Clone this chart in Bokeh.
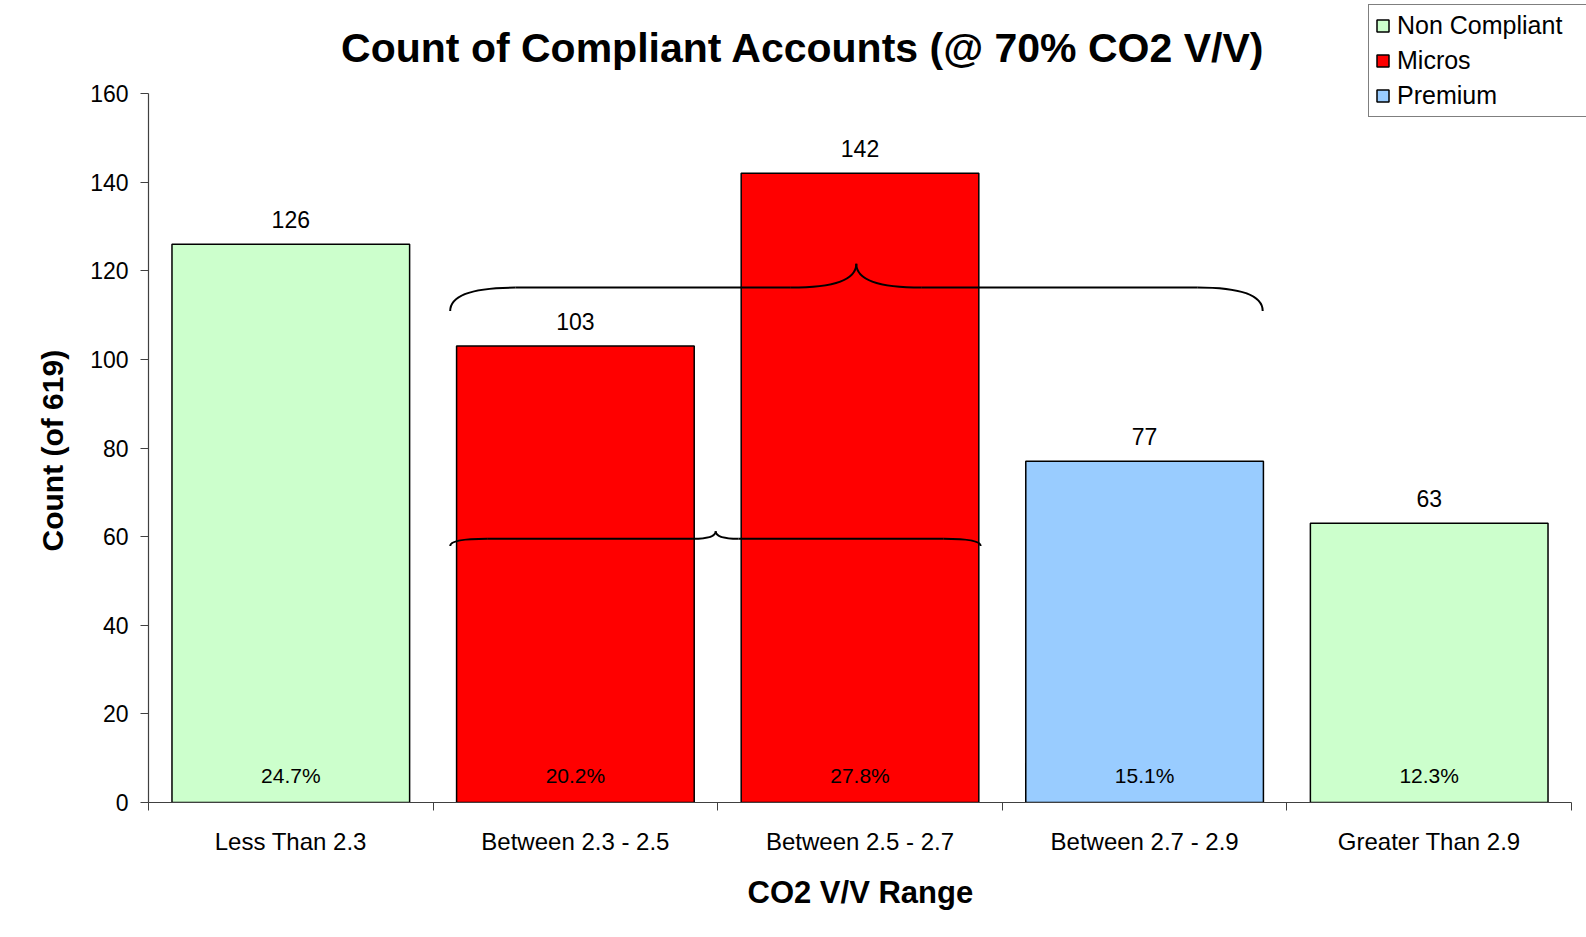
from bokeh.plotting import figure
from bokeh.models import ColumnDataSource, FixedTicker, Range1d, Label, Title
from bokeh.embed import file_html
from bokeh.resources import INLINE
from bokeh.core.properties import value

# ---------------- data ----------------
categories = ["Less Than 2.3", "Between 2.3 - 2.5", "Between 2.5 - 2.7",
              "Between 2.7 - 2.9", "Greater Than 2.9"]
counts = [126, 103, 142, 77, 63]
percent_labels = ["24.7%", "20.2%", "27.8%", "15.1%", "12.3%"]
groups = ["Non Compliant", "Micros", "Micros", "Premium", "Non Compliant"]
group_names = ["Non Compliant", "Micros", "Premium"]
group_colors = ["#CCFFCC", "#FF0000", "#99CCFF"]
y_ticks = [0, 20, 40, 60, 80, 100, 120, 140, 160]
Y_MAX = 160

TITLE = "Count of Compliant Accounts (@ 70% CO2 V/V)"
X_LABEL = "CO2 V/V Range"
Y_LABEL = "Count (of 619)"
FONT = "Liberation Sans"
AXIS_COLOR = "#404040"

# ---------------- layout (pixels) ----------------
W, H = 1586, 937
LEFT, BOTTOM = 148, 135          # frame offsets
AXIS_RIGHT_PX, AXIS_TOP_PX = 1571, 93   # where the axes end on the page
n = len(categories)
px_per_x = (AXIS_RIGHT_PX - LEFT) / n
px_per_y = (H - BOTTOM - AXIS_TOP_PX) / Y_MAX
x_end = (W - LEFT) / px_per_x
y_end = (H - BOTTOM) / px_per_y

color_of = dict(zip(group_names, group_colors))
xs = [i + 0.5 for i in range(n)]
src = ColumnDataSource(dict(
    x=xs, count=counts, pct=percent_labels, group=groups,
    color=[color_of[g] for g in groups], label=[str(c) for c in counts],
    zero=[0] * n,
))

p = figure(width=W, height=H, x_range=Range1d(0, x_end), y_range=Range1d(0, y_end),
           output_backend="svg", toolbar_location=None,
           min_border_left=LEFT, min_border_right=0, min_border_top=0,
           min_border_bottom=BOTTOM)
p.outline_line_color = None
p.grid.grid_line_color = None
p.background_fill_color = "white"
p.border_fill_color = "white"

# title (inside the frame so the legend can sit at the very top)
p.add_layout(Label(x=(W / 2 + 9.5 - LEFT) / px_per_x, y=(H - BOTTOM - 47.5) / px_per_y,
                   text=TITLE, text_font=FONT, text_font_size="41px",
                   text_font_style="bold", text_align="center",
                   text_baseline="middle", text_color="black"))

# bars
bars = p.vbar(x="x", top="count", width=0.835, source=src, fill_color="color",
              line_color="black", line_width=1.5, legend_field="group")

# value labels
p.text(x="x", y="count", text="label", source=src, text_font=value(FONT),
       text_font_size="23px", text_align="center", text_baseline="alphabetic",
       y_offset=-25, text_color="black")
p.text(x="x", y="zero", text="pct", source=src, text_font=value(FONT),
       text_font_size="21px", text_align="center", text_baseline="alphabetic",
       y_offset=-27, text_color="black")


# braces
def brace(x0, x1, xt, y, h_end, h_tip, w_end, w_tip):
    p.quadratic(x0=[x0, x1, xt - w_tip, xt + w_tip],
                y0=[y - h_end, y - h_end, y, y],
                x1=[x0 + w_end, x1 - w_end, xt, xt],
                y1=[y, y, y + h_tip, y + h_tip],
                cx=[x0, x1, xt, xt], cy=[y, y, y, y],
                line_color="black", line_width=2)
    p.segment(x0=[x0 + w_end, xt + w_tip], y0=[y, y],
              x1=[xt - w_tip, x1 - w_end], y1=[y, y],
              line_color="black", line_width=2)


brace(1.06, 3.915, 2.487, 116.2, 5.3, 5.4, 0.23, 0.23)
brace(1.06, 2.924, 1.993, 59.5, 1.6, 1.7, 0.13, 0.08)

# axes
xa = p.xaxis[0]
xa.bounds = (0, n)
xa.ticker = FixedTicker(ticks=xs, minor_ticks=list(range(n + 1)))
xa.major_label_overrides = {x: c for x, c in zip(xs, categories)}
xa.major_tick_out = 0
xa.major_tick_in = 0
xa.minor_tick_out = 8
xa.minor_tick_in = 0
xa.minor_tick_line_color = AXIS_COLOR
xa.axis_line_color = AXIS_COLOR
xa.axis_line_width = 1.2
xa.major_label_text_font = FONT
xa.major_label_text_font_size = "24px"
xa.major_label_text_color = "black"
xa.major_label_standoff = 17

ya = p.yaxis[0]
ya.bounds = (0, Y_MAX)
ya.ticker = FixedTicker(ticks=y_ticks)
ya.major_tick_out = 8
ya.major_tick_in = 0
ya.minor_tick_line_color = None
ya.major_tick_line_color = AXIS_COLOR
ya.axis_line_color = AXIS_COLOR
ya.axis_line_width = 1.2
ya.major_label_text_font = FONT
ya.major_label_text_font_size = "23px"
ya.major_label_text_color = "black"
ya.major_label_standoff = 12

# axis titles, positioned along the axes (the frame extends past the axes)
p.add_layout(Title(text=X_LABEL, align="left", offset=599, standoff=30,
                   text_font=FONT, text_font_size="31px", text_font_style="bold",
                   text_color="black"), "below")
p.add_layout(Title(text=Y_LABEL, align="left", offset=251, standoff=37,
                   text_font=FONT, text_font_size="30px", text_font_style="bold",
                   text_color="black"), "left")

# legend
lg = p.legend[0]
lg.location = (1368 - LEFT, H - BOTTOM - 117)
lg.border_line_color = "black"
lg.border_line_width = 1
lg.background_fill_color = "white"
lg.background_fill_alpha = 1
lg.label_text_font = FONT
lg.label_text_font_size = "25px"
lg.label_text_color = "black"
lg.glyph_width = 15
lg.glyph_height = 15
lg.label_standoff = 7
lg.label_width = 200
lg.spacing = 6
lg.padding = 6
lg.margin = 0

open("out.html", "w").write(file_html(p, INLINE))
